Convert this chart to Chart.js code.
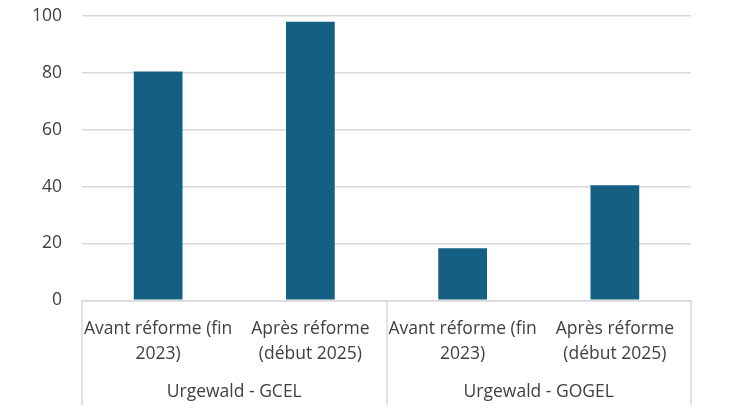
<!DOCTYPE html>
<html>
<head>
<meta charset="utf-8">
<script src="https://cdn.jsdelivr.net/npm/chart.js@4"></script>
<style>
  html, body { margin: 0; padding: 0; background: #ffffff; }
  #wrap { width: 730px; height: 410px; }
</style>
</head>
<body>
<div id="wrap"><canvas id="chart" width="730" height="410"></canvas></div>
<script>
/* Bar chart: Urgewald lists before / after reform */

const CATEGORIES = [
  ['Avant réforme (fin', '2023)'],
  ['Après réforme', '(début 2025)'],
  ['Avant réforme (fin', '2023)'],
  ['Après réforme', '(début 2025)'],
];
const GROUPS = ['Urgewald - GCEL', 'Urgewald - GOGEL'];
const GROUP_SIZE = 2;
const VALUES = [80.5, 98, 18.3, 40.5];
const Y_TICKS = [0, 20, 40, 60, 80, 100];

const FONT = '"Open Sans", Roboto, sans-serif';
const TEXT = '#404040';
const LINE = '#d9d9d9';

/* ── Group labels and separators under the category axis ── */
const groupAxis = {
  id: 'groupAxis',
  afterDraw(chart) {
    const x = chart.scales.x;
    const ctx = chart.ctx;
    const bottom = chart.height - 5;
    const n = CATEGORIES.length;
    const step = n > 1 ? x.getPixelForValue(1) - x.getPixelForValue(0) : x.width;
    ctx.save();
    ctx.strokeStyle = LINE;
    ctx.lineWidth = 1.5;
    for (let g = 0; g <= GROUPS.length; g++) {
      const idx = g * GROUP_SIZE;
      const px = Math.round(x.getPixelForValue(0) - step / 2 + idx * step);
      ctx.beginPath();
      ctx.moveTo(px, x.top);
      ctx.lineTo(px, bottom);
      ctx.stroke();
    }
    ctx.fillStyle = TEXT;
    ctx.font = '17.5px ' + FONT;
    ctx.textAlign = 'center';
    ctx.textBaseline = 'middle';
    GROUPS.forEach((name, g) => {
      const a = x.getPixelForValue(g * GROUP_SIZE);
      const b = x.getPixelForValue(g * GROUP_SIZE + GROUP_SIZE - 1);
      ctx.fillText(name, (a + b) / 2, 392);
    });
    ctx.restore();
  },
};

new Chart(document.getElementById('chart'), {
  type: 'bar',
  data: {
    labels: CATEGORIES,
    datasets: [{
      data: VALUES,
      backgroundColor: '#156082',
      borderWidth: 0,
      barPercentage: 0.32,
      categoryPercentage: 1,
    }],
  },
  options: {
    responsive: false,
    animation: false,
    devicePixelRatio: 1,
    layout: { padding: { top: 16, right: 39, bottom: 35, left: 12 } },
    plugins: {
      legend: { display: false },
      tooltip: { enabled: false },
    },
    scales: {
      x: {
        grid: { display: false },
        border: { color: LINE, width: 1.5 },
        ticks: {
          color: TEXT,
          font: { family: FONT, size: 17.5, lineHeight: 1.45 },
          padding: 8,
          maxRotation: 0,
          autoSkip: false,
        },
      },
      y: {
        min: 0,
        max: 100,
        afterBuildTicks: axis => { axis.ticks = Y_TICKS.map(v => ({ value: v })); },
        afterFit: axis => { axis.paddingTop = 0; axis.paddingBottom = 0; },
        grid: { color: LINE, lineWidth: 1.5, drawTicks: false },
        border: { display: false },
        ticks: {
          color: TEXT,
          font: { family: FONT, size: 17.5 },
          padding: 20,
        },
      },
    },
  },
  plugins: [groupAxis],
});
</script>
</body>
</html>
